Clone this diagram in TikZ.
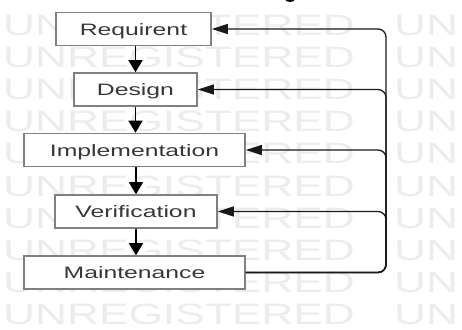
\documentclass[tikz,border=0pt]{standalone}
\usepackage{fontspec}
\setmainfont{Liberation Sans}
\newfontfamily\widefont[FakeStretch=1.5]{Liberation Sans}
\usetikzlibrary{arrows.meta}
\definecolor{boxgray}{RGB}{128,128,128}
\definecolor{txtgray}{RGB}{55,55,55}
\definecolor{wmgray}{RGB}{236,236,236}
\definecolor{linegray}{RGB}{25,25,25}
\begin{document}
\begin{tikzpicture}[x=1pt,y=-1pt,
  stage/.style={draw=boxgray, line width=1.6pt, fill=white,
    font=\widefont\fontsize{16.5}{18}\selectfont, text=txtgray,
    text height=12pt, text depth=0pt, minimum height=33pt, inner sep=0pt},
  flow/.style={draw=black, line width=1.5pt, -{Triangle[length=12pt,width=14pt]}},
  back/.style={draw=linegray, line width=1.3pt, rounded corners=8pt,
    -{Triangle[length=16pt,width=10pt]}},
  wm/.style={text=wmgray, font=\widefont\fontsize{29.5}{30}\selectfont,
    inner sep=0pt, anchor=base west}]
\useasboundingbox (0,0) rectangle (462,329);
\clip (0,0) rectangle (462,329);
% watermark
\foreach \k in {0,...,9} {
  \node[wm] (wa\k) at (3, 35+32.2*\k) {UNREGISTERED};
  \node[wm] (wb\k) at (394, 35+32.2*\k) {UN};
}
% fragment at top edge
\fill[black] (290,-1) ellipse[x radius=5pt, y radius=3pt];
% stages
\node[stage, minimum width=155pt] (req) at (133.5,29) {Requirent};
\node[stage, minimum width=123pt] (des) at (135.5,89.5) {Design};
\node[stage, minimum width=221pt] (imp) at (134.5,150) {Implementation};
\node[stage, minimum width=162pt] (ver) at (136,211.5) {Verification};
\node[stage, minimum width=221pt] (mai) at (134.5,272.5) {Maintenance};
% flow arrows
\draw[flow] (des.north |- req.south) -- (des.north);
\draw[flow] (des.south) -- (des.south |- imp.north);
\draw[flow] (ver.north |- imp.south) -- (ver.north);
\draw[flow] (ver.south) -- (ver.south |- mai.north);
% feedback
\coordinate (bus) at (386,0);
\foreach \t in {ver,imp,des,req} {
  \draw[back] (mai.east) -- (mai.east -| bus) -- (bus |- \t.east) -- (\t.east);
}
\end{tikzpicture}
\end{document}
